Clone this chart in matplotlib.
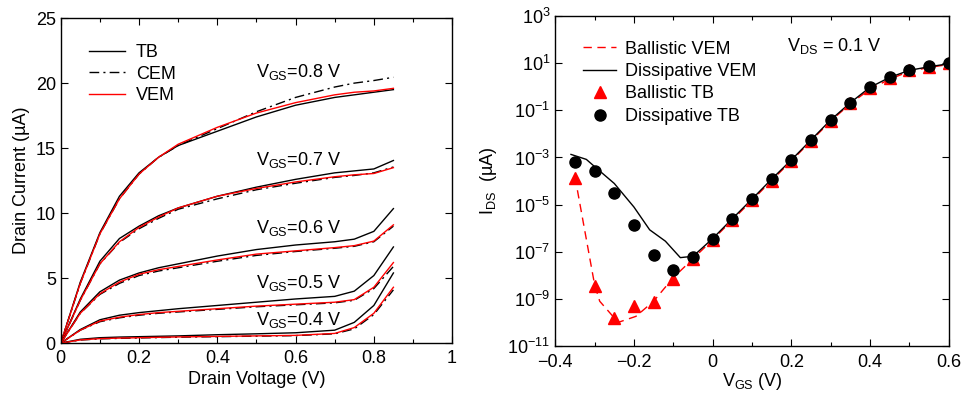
import matplotlib
matplotlib.use("Agg")
import matplotlib.pyplot as plt
from matplotlib.ticker import MultipleLocator, FixedLocator

plt.rcParams['font.family'] = ['Liberation Sans', 'DejaVu Sans']
plt.rcParams['mathtext.fontset'] = 'custom'
plt.rcParams['mathtext.rm'] = 'Liberation Sans'
plt.rcParams['mathtext.it'] = 'Liberation Sans'
plt.rcParams['mathtext.default'] = 'regular'

# left panel: output characteristics
vd = [0, 0.05, 0.1, 0.15, 0.2, 0.25, 0.3, 0.4, 0.5, 0.6, 0.7, 0.75, 0.8, 0.85]
vgs_labels = ['0.8', '0.7', '0.6', '0.5', '0.4']

tb = {
    '0.8': [0, 4.7, 8.5, 11.3, 13.1, 14.3, 15.2, 16.3, 17.4, 18.3, 18.9, 19.1, 19.3, 19.5],
    '0.7': [0, 3.4, 6.3, 8.05, 9.0, 9.8, 10.4, 11.3, 12.0, 12.6, 13.1, 13.25, 13.4, 14.05],
    '0.6': [0, 2.4, 3.95, 4.85, 5.4, 5.8, 6.1, 6.7, 7.2, 7.55, 7.8, 8.0, 8.6, 10.35],
    '0.5': [0, 1.05, 1.8, 2.15, 2.35, 2.5, 2.65, 2.9, 3.15, 3.4, 3.6, 4.0, 5.2, 7.4],
    '0.4': [0, 0.3, 0.42, 0.47, 0.5, 0.53, 0.56, 0.65, 0.72, 0.8, 1.0, 1.6, 2.9, 5.4],
}
cem = {
    '0.8': [0, 4.6, 8.4, 11.1, 13.0, 14.3, 15.2, 16.5, 17.8, 18.9, 19.7, 20.0, 20.2, 20.45],
    '0.7': [0, 3.3, 6.1, 7.75, 8.8, 9.6, 10.3, 11.1, 11.8, 12.3, 12.75, 12.9, 13.1, 13.55],
    '0.6': [0, 2.3, 3.75, 4.6, 5.2, 5.55, 5.8, 6.3, 6.75, 7.05, 7.3, 7.45, 7.8, 9.0],
    '0.5': [0, 1.0, 1.65, 1.95, 2.15, 2.3, 2.4, 2.6, 2.8, 2.95, 3.1, 3.3, 4.2, 5.9],
    '0.4': [0, 0.24, 0.33, 0.37, 0.4, 0.43, 0.46, 0.5, 0.54, 0.58, 0.72, 1.1, 2.2, 4.1],
}
vem = {
    '0.8': [0, 4.6, 8.4, 11.1, 13.0, 14.3, 15.3, 16.6, 17.7, 18.5, 19.1, 19.3, 19.4, 19.6],
    '0.7': [0, 3.3, 6.1, 7.8, 8.9, 9.7, 10.4, 11.3, 11.9, 12.4, 12.8, 12.95, 13.05, 13.5],
    '0.6': [0, 2.3, 3.8, 4.7, 5.3, 5.65, 5.9, 6.4, 6.85, 7.1, 7.35, 7.5, 7.85, 9.1],
    '0.5': [0, 1.0, 1.7, 2.0, 2.2, 2.35, 2.45, 2.65, 2.85, 3.0, 3.15, 3.35, 4.3, 6.2],
    '0.4': [0, 0.25, 0.35, 0.39, 0.42, 0.45, 0.48, 0.52, 0.56, 0.6, 0.75, 1.2, 2.3, 4.3],
}
label_y = [20.85, 14.1, 8.85, 4.6, 1.8]

# right panel: transfer characteristics (uA)
vgs = [-0.35, -0.3, -0.25, -0.2, -0.15, -0.1, -0.05, 0, 0.05, 0.1, 0.15, 0.2,
       0.25, 0.3, 0.35, 0.4, 0.45, 0.5, 0.55, 0.6]
diss_tb = [6.2e-4, 2.8e-4, 3.2e-5, 1.4e-6, 7.4e-8, 1.7e-8, 5.8e-8, 3.6e-7, 2.5e-6, 1.7e-5,
           1.2e-4, 7.8e-4, 5.5e-3, 3.9e-2, 0.21, 0.95, 2.6, 5.4, 7.6, 10.2]
ball_tb = [1.4e-4, 3.4e-9, 1.5e-10, 4.9e-10, 7.2e-10, 6.9e-9, 4.9e-8, 3.2e-7, 2.2e-6, 1.5e-5,
           1.05e-4, 7.1e-4, 5.0e-3, 3.5e-2, 0.20, 0.85, 2.3, 5.0, 7.2, 9.8]

vgs_ball = [-0.35, -0.3, -0.287, -0.24, -0.195, -0.15, -0.1, -0.05, 0, 0.05, 0.1, 0.15,
            0.2, 0.25, 0.3, 0.35, 0.4, 0.45, 0.5, 0.55, 0.6]
ball_vem = [1.55e-4, 4.0e-9, 7.9e-10, 1.0e-10, 1.8e-10, 7.9e-10, 7.9e-9, 5.0e-8, 3.2e-7,
            2.2e-6, 1.5e-5, 1.05e-4, 7.1e-4, 5.0e-3, 3.5e-2, 0.19, 0.79, 2.1, 4.5, 6.6, 8.9]

vgs_diss = [-0.36, -0.321, -0.3, -0.25, -0.2, -0.16, -0.12, -0.082, -0.07, -0.05, 0, 0.05,
            0.1, 0.15, 0.2, 0.25, 0.3, 0.35, 0.4, 0.45, 0.5, 0.55, 0.6]
diss_vem = [1.35e-3, 8.3e-4, 4.1e-4, 7.9e-5, 7.9e-6, 8.5e-7, 2.8e-7, 5.6e-8, 5.9e-8, 6.3e-8,
            3.6e-7, 2.5e-6, 1.7e-5, 1.2e-4, 7.8e-4, 5.5e-3, 3.9e-2, 0.21, 0.95, 2.5, 5.0, 7.1, 9.5]

fig = plt.figure(figsize=(9.64, 3.94), dpi=100)
ax1 = fig.add_axes([0.063, 0.129, 0.406, 0.825])
ax2 = fig.add_axes([0.576, 0.122, 0.408, 0.837])

fs = 13
for i, k in enumerate(vgs_labels):
    ax1.plot(vd, tb[k], color='k', lw=1.0, label='TB' if i == 0 else None)
    ax1.plot(vd, cem[k], color='k', lw=1.0, dashes=(7, 3, 1.5, 3), label='CEM' if i == 0 else None)
    ax1.plot(vd, vem[k], color='red', lw=1.0, label='VEM' if i == 0 else None)
    ax1.text(0.50, label_y[i], r'V$_{GS}$=' + k + ' V', fontsize=fs, va='center')

ax1.set_xlim(0, 1)
ax1.set_ylim(0, 25)
ax1.xaxis.set_major_locator(MultipleLocator(0.2))
ax1.xaxis.set_minor_locator(MultipleLocator(0.1))
ax1.yaxis.set_major_locator(MultipleLocator(5))
ax1.set_xticks([0, 0.2, 0.4, 0.6, 0.8, 1.0])
ax1.set_xticklabels(['0', '0.2', '0.4', '0.6', '0.8', '1'])
ax1.set_xlabel('Drain Voltage (V)', fontsize=fs, labelpad=3)
ax1.set_ylabel('Drain Current (µA)', fontsize=fs, labelpad=4)
ax1.legend(loc='upper left', bbox_to_anchor=(0.03, 0.97), frameon=False, fontsize=fs,
           handlelength=2.0, handletextpad=0.6, labelspacing=0.25)

ax2.plot(vgs_ball, ball_vem, color='red', lw=1.0, dashes=(6, 4), label='Ballistic VEM')
ax2.plot(vgs_diss, diss_vem, color='k', lw=1.0, label='Dissipative VEM')
ax2.plot(vgs, ball_tb, ls='none', marker='^', color='red', ms=8, label='Ballistic TB')
ax2.plot(vgs, diss_tb, ls='none', marker='o', color='k', ms=8, label='Dissipative TB')
ax2.set_yscale('log')
ax2.set_xlim(-0.4, 0.6)
ax2.set_ylim(1e-11, 1e3)
ax2.yaxis.set_major_locator(FixedLocator([1e-11, 1e-9, 1e-7, 1e-5, 1e-3, 1e-1, 1e1, 1e3]))
ax2.yaxis.set_minor_locator(FixedLocator([]))
ax2.xaxis.set_major_locator(MultipleLocator(0.2))
ax2.xaxis.set_minor_locator(MultipleLocator(0.1))
ax2.set_xticks([-0.4, -0.2, 0, 0.2, 0.4, 0.6])
ax2.set_xticklabels(['\u22120.4', '\u22120.2', '0', '0.2', '0.4', '0.6'])
ax2.set_xlabel(r'V$_{GS}$ (V)', fontsize=fs, labelpad=0)
ax2.set_ylabel(r'I$_{DS}$  (µA)', fontsize=fs, labelpad=6)
ax2.text(0.19, 54, r'V$_{DS}$ = 0.1 V', fontsize=fs, va='center')
ax2.legend(loc='upper left', bbox_to_anchor=(0.03, 0.975), frameon=False, fontsize=fs,
           handlelength=1.8, handletextpad=0.5, labelspacing=0.3)

for ax in (ax1, ax2):
    ax.tick_params(which='both', direction='in', top=True, right=True, labelsize=fs)
    ax.tick_params(which='major', length=5, width=0.8)
    ax.tick_params(which='minor', length=3, width=0.8)
    for s in ax.spines.values():
        s.set_linewidth(1.0)
ax2.tick_params(axis='x', which='major', pad=6)
ax1.tick_params(axis='x', which='major', pad=5)

fig.savefig('out.png', dpi=100)
